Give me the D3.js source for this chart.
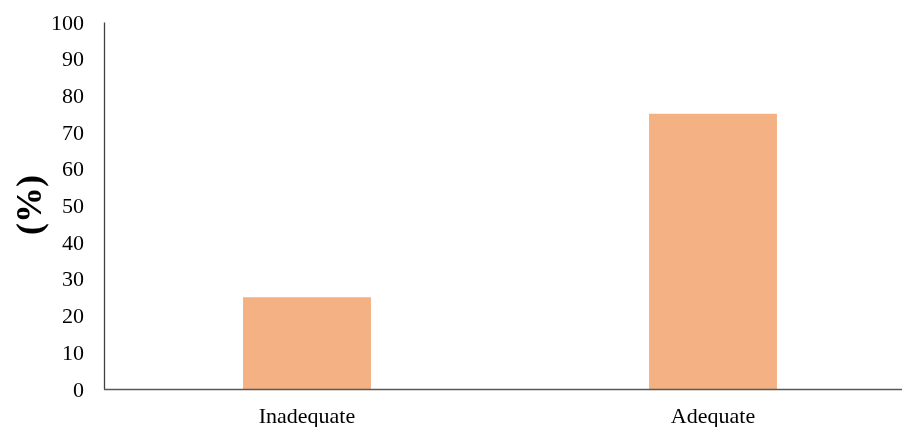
<!DOCTYPE html>
<html>
<head>
<meta charset="utf-8">
<script src="https://cdn.jsdelivr.net/npm/d3@7"></script>
<style>
  html, body { margin: 0; padding: 0; background: #fff; overflow: hidden; }
  svg { display: block; position: fixed; left: 0; top: 0; }
</style>
</head>
<body>
<div id="chart"></div>
<script>
// data
const categories = ["Inadequate", "Adequate"];
const values = [25, 75];
const yTicks = [0, 10, 20, 30, 40, 50, 60, 70, 80, 90, 100];

const width = 903;
const height = 427;
const margins = {top: 22, bottom: 38, left: 104};
const serif = "Liberation Serif, Times New Roman, serif";

const svg = d3.select("#chart")
    .append("svg")
    .attr("width", width)
    .attr("height", height)
    .attr("viewBox", `0 0 ${width} ${height}`);

const xScale = d3.scaleBand()
    .domain(categories)
    .range([margins.left, 916])
    .paddingInner(0.685)
    .paddingOuter(0.3425);

const yScale = d3.scaleLinear()
    .domain([0, 100])
    .range([height - margins.bottom, margins.top]);

// bars
svg.selectAll("rect.bar")
    .data(values)
    .join("rect")
    .attr("class", "bar")
    .attr("x", (d, i) => xScale(categories[i]))
    .attr("y", d => yScale(d))
    .attr("width", xScale.bandwidth())
    .attr("height", d => yScale(0) - yScale(d))
    .attr("fill", "#F4B183");

// y axis
const yAxis = svg.append("g")
    .attr("transform", `translate(${margins.left},0)`)
    .call(d3.axisLeft(yScale).tickValues(yTicks).tickSize(0).tickPadding(20))
    .attr("font-family", serif)
    .attr("font-size", 22);
yAxis.select(".domain").attr("stroke", "#404040").attr("stroke-width", 1.3);
yAxis.selectAll("text").attr("fill", "#000");

// x axis - line runs to the right edge
const xAxis = svg.append("g")
    .attr("transform", `translate(0,${yScale(0)})`)
    .call(d3.axisBottom(xScale).tickSize(0).tickPadding(18))
    .attr("font-family", serif)
    .attr("font-size", 22);
xAxis.select(".domain")
    .attr("d", `M${margins.left},0.5H${width - 1}`)
    .attr("stroke", "#595959").attr("stroke-width", 1.3);
xAxis.selectAll("text").attr("fill", "#000");

// y label
svg.append("text")
    .attr("transform", "rotate(-90)")
    .attr("x", -205)
    .attr("y", 41)
    .attr("text-anchor", "middle")
    .attr("font-family", serif)
    .attr("font-size", 36)
    .attr("font-weight", "bold")
    .text("(%)");
</script>
</body>
</html>
